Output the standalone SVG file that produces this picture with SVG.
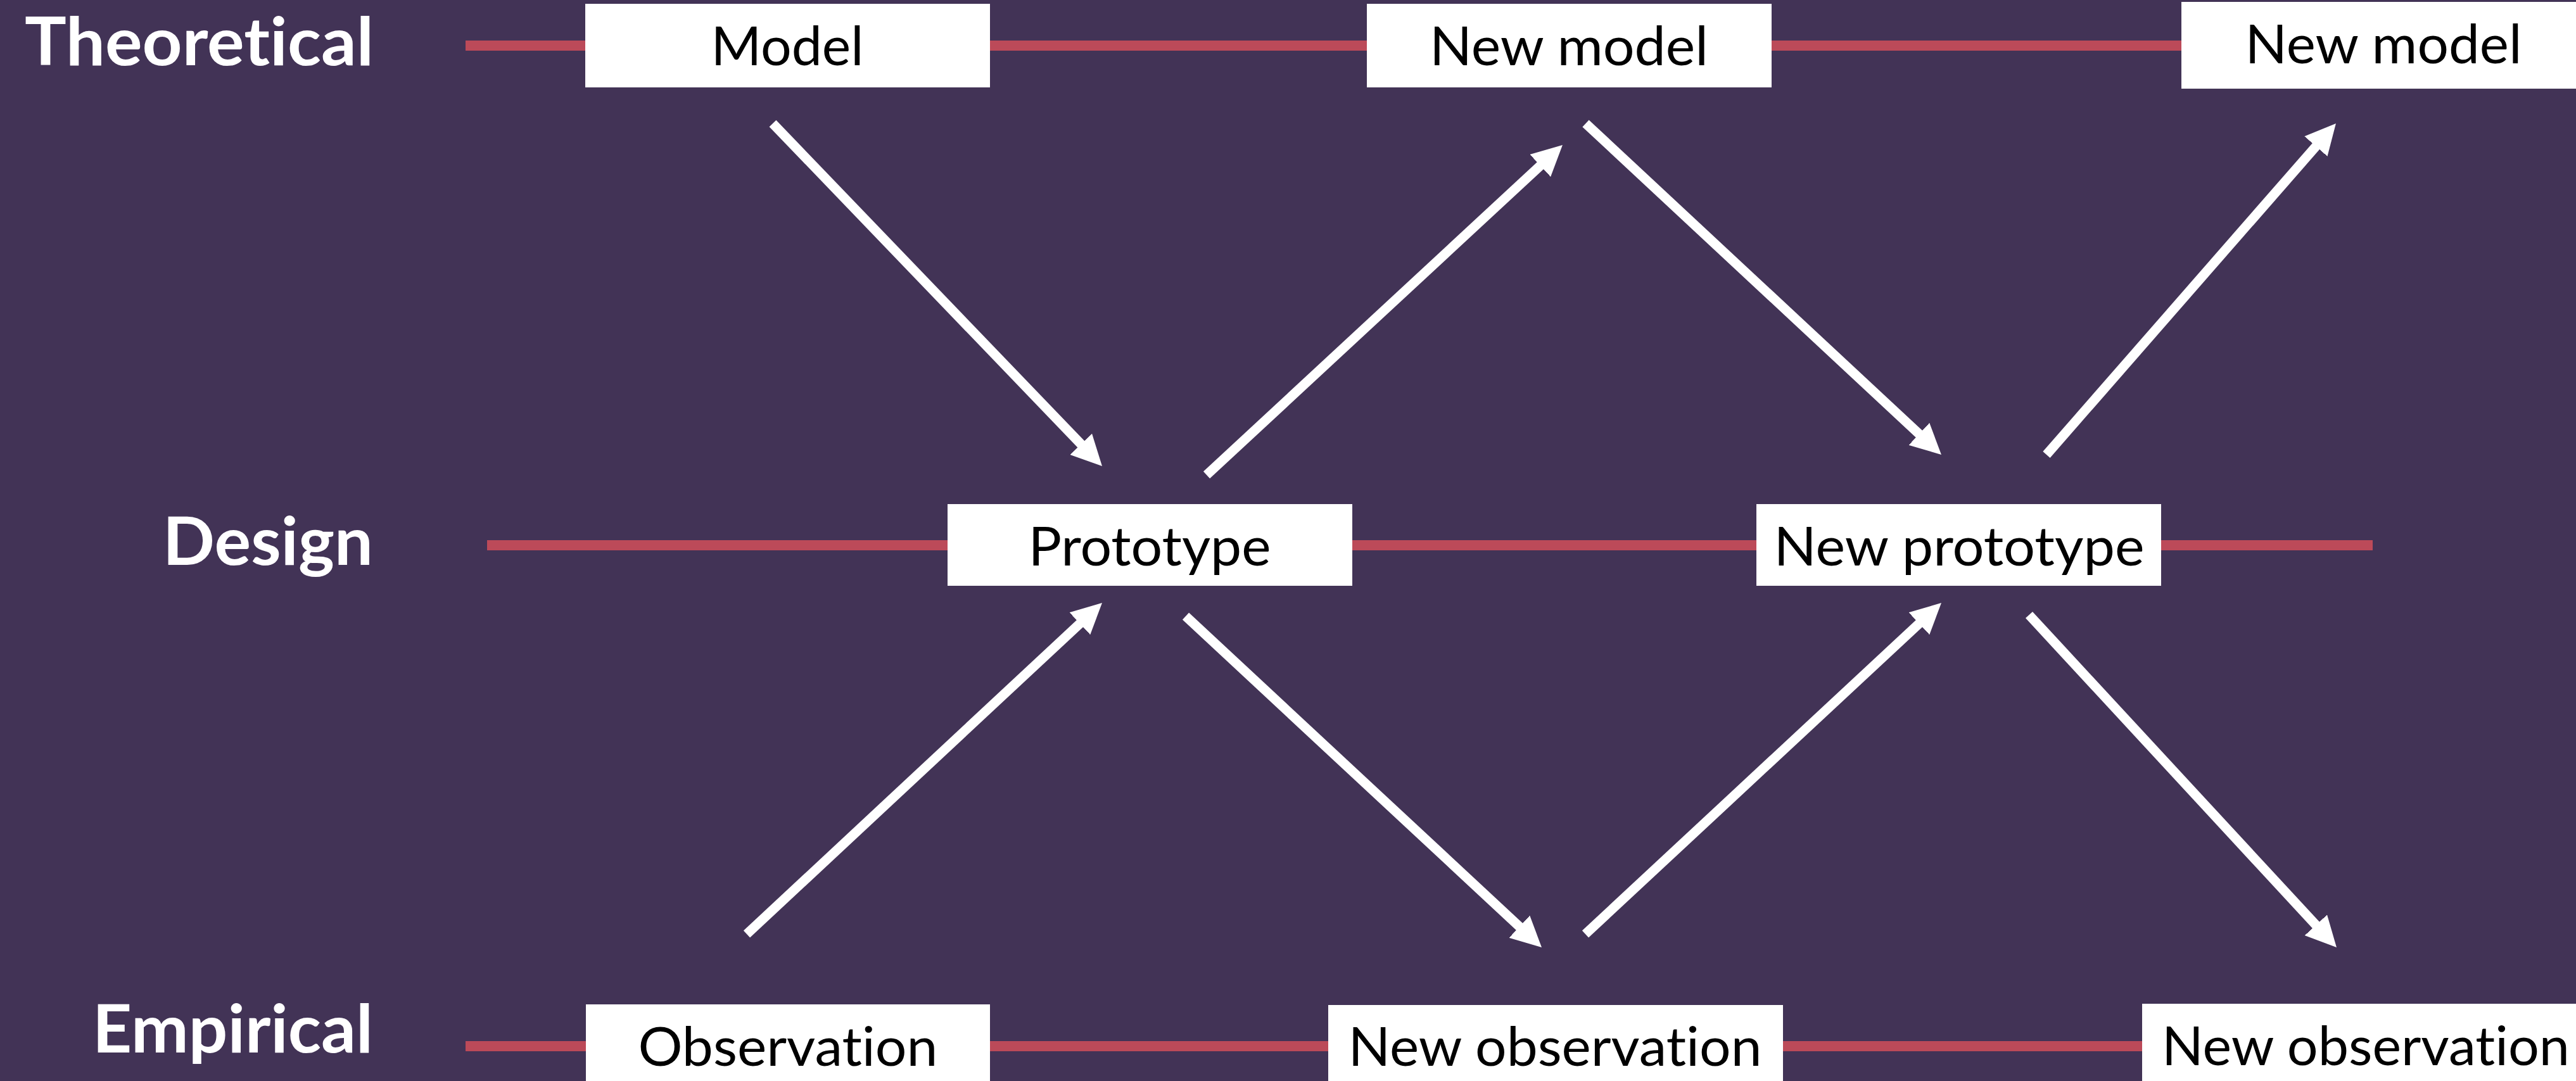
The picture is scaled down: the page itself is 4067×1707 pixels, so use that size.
<svg xmlns="http://www.w3.org/2000/svg" width="4067" height="1707" viewBox="0 0 4067 1707">
  <style>
    .bg { fill: #423356; }
    .lane { stroke: #BC4A59; stroke-width: 16; fill: none; }
    .box { fill: #FFFFFF; }
    .lbl { font-family: Lato, "Noto Sans", "Liberation Sans", sans-serif; font-weight: 700; font-size: 105px; fill: #FFFFFF; text-anchor: end; font-variant-ligatures: none; font-feature-settings: "liga" 0, "clig" 0; }
    .txt { font-family: Lato, "Noto Sans", "Liberation Sans", sans-serif; font-weight: 400; font-size: 86px; fill: #000000; text-anchor: middle; font-variant-ligatures: none; font-feature-settings: "liga" 0, "clig" 0; }
    .arrow { stroke: #FFFFFF; stroke-width: 15; fill: none; marker-end: url(#head); }
  </style>
  <defs>
    <marker id="head" viewBox="0 -24 48 48" markerUnits="userSpaceOnUse" markerWidth="48" markerHeight="48" refX="4" refY="0" orient="auto">
      <path d="M0,-24 L48,0 L0,24 z" fill="#FFFFFF"/>
    </marker>
  </defs>
  <rect class="bg" x="0" y="0" width="4067" height="1707"/>

  <g id="lanes">
    <line class="lane" x1="735" y1="72" x2="3450" y2="72"/>
    <line class="lane" x1="769" y1="861" x2="3746" y2="861"/>
    <line class="lane" x1="735" y1="1652" x2="3390" y2="1652"/>
    <text id="label-theoretical" class="lbl" x="590" y="103" textLength="551" lengthAdjust="spacingAndGlyphs">Theoretical</text>
    <text id="label-design" class="lbl" x="589" y="892" textLength="332" lengthAdjust="spacingAndGlyphs">Design</text>
    <text id="label-empirical" class="lbl" x="589" y="1662" textLength="443" lengthAdjust="spacingAndGlyphs">Empirical</text>
  </g>

  <g id="connectors">
    <line class="arrow" x1="1220" y1="195" x2="1709.5" y2="704.3"/>
    <line class="arrow" x1="1905" y1="750" x2="2434.7" y2="258.9"/>
    <line class="arrow" x1="2503.5" y1="195" x2="3032.8" y2="688"/>
    <line class="arrow" x1="3231" y1="718" x2="3659" y2="228.1"/>
    <line class="arrow" x1="1179" y1="1475" x2="1707.8" y2="982"/>
    <line class="arrow" x1="1872" y1="973" x2="2401.8" y2="1466"/>
    <line class="arrow" x1="2503" y1="1475" x2="3032.8" y2="982"/>
    <line class="arrow" x1="3203.5" y1="971" x2="3659.1" y2="1463.7"/>
  </g>

  <g id="node-model">
    <rect class="box" x="924" y="6" width="639" height="132"/>
    <text class="txt" x="1243" y="103" textLength="241" lengthAdjust="spacingAndGlyphs">Model</text>
  </g>
  <g id="node-new-model-1">
    <rect class="box" x="2158" y="6" width="639" height="132"/>
    <text class="txt" x="2477" y="103" textLength="440" lengthAdjust="spacingAndGlyphs">New model</text>
  </g>
  <g id="node-new-model-2">
    <rect class="box" x="3444" y="3" width="640" height="137"/>
    <text class="txt" x="3763" y="100" textLength="437" lengthAdjust="spacingAndGlyphs">New model</text>
  </g>
  <g id="node-prototype">
    <rect class="box" x="1496" y="796" width="639" height="129"/>
    <text class="txt" x="1815" y="893" textLength="383" lengthAdjust="spacingAndGlyphs">Prototype</text>
  </g>
  <g id="node-new-prototype">
    <rect class="box" x="2773" y="796" width="639" height="129"/>
    <text class="txt" x="3093" y="893" textLength="585" lengthAdjust="spacingAndGlyphs">New prototype</text>
  </g>
  <g id="node-observation">
    <rect class="box" x="925" y="1586" width="638" height="130"/>
    <text class="txt" x="1244" y="1683" textLength="473" lengthAdjust="spacingAndGlyphs">Observation</text>
  </g>
  <g id="node-new-observation-1">
    <rect class="box" x="2097" y="1587" width="718" height="130"/>
    <text class="txt" x="2455" y="1683" textLength="653" lengthAdjust="spacingAndGlyphs">New observation</text>
  </g>
  <g id="node-new-observation-2">
    <rect class="box" x="3382" y="1585" width="700" height="130"/>
    <text class="txt" x="3735" y="1682" textLength="644" lengthAdjust="spacingAndGlyphs">New observation</text>
  </g>
</svg>
